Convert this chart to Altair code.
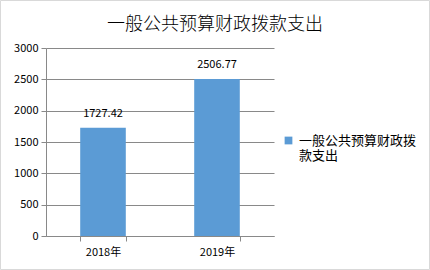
import altair as alt
import pandas as pd

years = ["2018年", "2019年"]
values = [1727.42, 2506.77]
series = "一般公共预算财政拨款支出"
title_text = "一般公共预算财政拨款支出"
y_ticks = [0, 500, 1000, 1500, 2000, 2500, 3000]

df = pd.DataFrame({"year": years, "value": values, "series": [series] * len(years)})

FONT = "Noto Sans CJK SC"
GRID = "#898989"
BAR = "#5B9BD5"

base = alt.Chart(df)

x_enc = alt.X("year:N", title=None,
              scale=alt.Scale(paddingInner=0.6, paddingOuter=0.3),
              axis=alt.Axis(labelAngle=0, tickBand="extent", tickSize=5, labelPadding=5,
                            domainColor=GRID, tickColor=GRID, grid=False,
                            labelFont=FONT, labelFontSize=11, labelColor="#000000"))
y_enc = alt.Y("value:Q", title=None,
              scale=alt.Scale(domain=[0, 3000], nice=False),
              axis=alt.Axis(values=y_ticks, format="d", tickSize=5, labelPadding=3,
                            domainColor=GRID, tickColor=GRID, gridColor=GRID,
                            labelFont=FONT, labelFontSize=11, labelColor="#000000"))

bars = base.mark_bar(color=BAR).encode(
    x=x_enc,
    y=y_enc,
    color=alt.Color("series:N", scale=alt.Scale(range=[BAR]),
                    legend=alt.Legend(title=None, orient="none", legendX=236, legendY=86,
                                      symbolType="square", symbolSize=60, symbolStrokeWidth=0,
                                      labelFont=FONT, labelFontSize=13, labelColor="#000000",
                                      labelExpr="['一般公共预算财政拨', '款支出']",
                                      labelBaseline="middle", labelLimit=200)),
)

labels = base.mark_text(baseline="middle", dy=-14, font=FONT, fontSize=11, color="#000000").encode(
    x=x_enc,
    y=y_enc,
    text=alt.Text("value:Q", format=".2f"),
)

border = alt.Chart(pd.DataFrame({"a": [0]})).mark_rect(fill=None, stroke="#d9d9d9", strokeWidth=1).encode(
    x=alt.value(-45.5), x2=alt.value(383.5), y=alt.value(-47.5), y2=alt.value(221.5)
)

chart = alt.layer(bars, labels, border).properties(
    width=228, height=188,
    padding={"left": 46, "top": 48, "right": 156, "bottom": 34},
    autosize=alt.AutoSizeParams(type="none"),
    title=alt.Title(title_text, font=FONT, fontSize=18, fontWeight=300, color="#000000",
                    anchor="middle", frame="group", dx=55, offset=0, dy=34),
).configure_view(stroke=None)

chart.save("out.html", embed_options={"renderer": "svg", "actions": False})
